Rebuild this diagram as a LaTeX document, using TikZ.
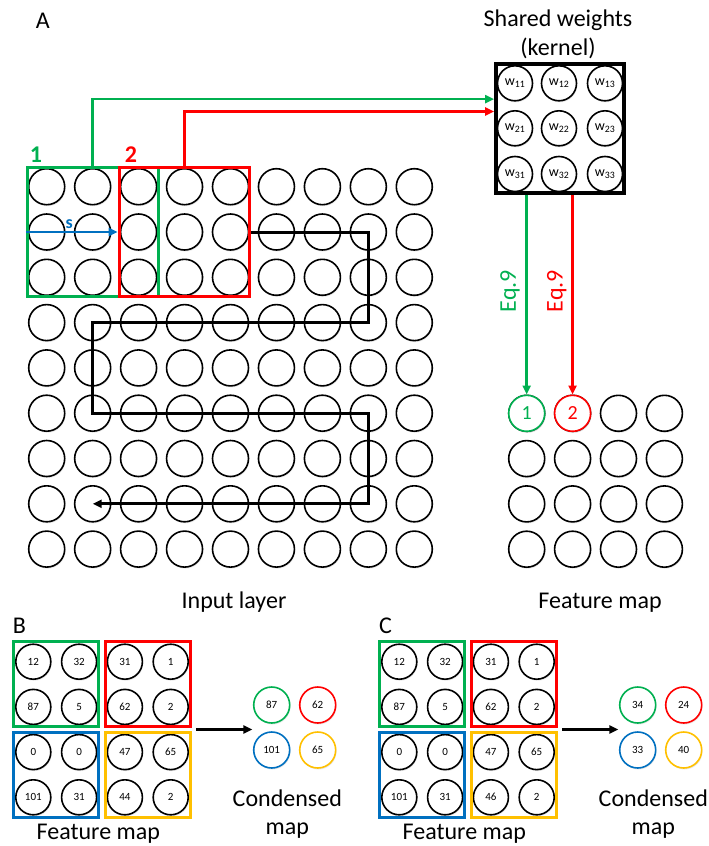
\documentclass[tikz,border=0pt]{standalone}
\usepackage{fontspec}
\setmainfont{Carlito}
\usetikzlibrary{arrows.meta,fit,calc,shadows}
\definecolor{cgreen}{RGB}{0,176,80}
\definecolor{cred}{RGB}{255,0,0}
\definecolor{cblue}{RGB}{0,112,192}
\definecolor{cgold}{RGB}{255,192,0}
\tikzset{
  shad/.style={drop shadow={opacity=0.18, shadow xshift=0.8pt, shadow yshift=-1.5pt}},
  cell/.style={circle, draw=black, line width=1.6pt, minimum size=36pt, inner sep=0pt, fill=white, shad},
  pcell/.style={cell, minimum size=35pt, font=\fontsize{11}{13}\selectfont},
  kcell/.style={cell, minimum size=35pt, font=\fontsize{14}{16}\selectfont},
  lab/.style={font=\fontsize{24}{28}\selectfont, inner sep=0pt},
  gbox/.style={draw=cgreen, line width=3pt, inner sep=0.6pt},
  pbox/.style={line width=3pt, inner sep=1.5pt},
  tip/.style={-{Triangle[length=9pt,width=8pt]}},
  garrow/.style={draw=cgreen, line width=2.6pt, tip},
  rarrow/.style={draw=cred, line width=2.6pt, tip},
  sarrow/.style={draw=cblue, line width=2.6pt, tip},
  karrow/.style={draw=black, line width=2.8pt, tip},
  scanpath/.style={draw=black, line width=3pt, tip},
}
\newcommand{\poolpanel}[8]{%
  \node[lab, anchor=base] (#2-letter) at (#1+19.5,633.3) {#3};
  \foreach \r/\c/\v in {1/1/12,1/2/32,1/3/31,1/4/1,2/1/87,2/2/5,2/3/62,2/4/2,3/1/0,3/2/0,3/3/47,3/4/65,4/1/101,4/2/31,4/3/#4,4/4/2}
    \node[pcell] (#2-\r-\c) at ({#1+33.3+45.8*(\c-1)},{661.7+45.2*(\r-1)}) {\v};
  \node[pbox, draw=cgreen, fit=(#2-1-1)(#2-2-2)] (#2-g) {};
  \node[pbox, draw=cred, fit=(#2-1-3)(#2-2-4)] (#2-r) {};
  \node[pbox, draw=cblue, fit=(#2-3-1)(#2-4-2)] (#2-b) {};
  \node[pbox, draw=cgold, fit=(#2-3-3)(#2-4-4)] (#2-o) {};
  \node[pcell, minimum size=36pt, draw=cgreen] (#2-c1) at (#1+271.7,705) {#5};
  \node[pcell, minimum size=36pt, draw=cred] (#2-c2) at (#1+317.7,705) {#6};
  \node[pcell, minimum size=36pt, draw=cblue] (#2-c3) at (#1+271.7,750) {#7};
  \node[pcell, minimum size=36pt, draw=cgold] (#2-c4) at (#1+317.7,750) {#8};
  \coordinate (#2-as) at ($(#2-r.south east)!0.5!(#2-o.north east)+(4,0)$);
  \draw[karrow, shorten >=0.5pt] (#2-as) -- (#2-as -| #2-c1.west);
  \node[lab, anchor=base] (#2-fmlab) at (#1+98.3,839.3) {Feature map};
  \node[lab, anchor=base] (#2-cl1) at (#1+287.3,806.7) {Condensed};
  \node[lab, anchor=base] (#2-cl2) at (#1+287.3,834) {map};
}
\begin{document}
\begin{tikzpicture}[x=1pt, y=-1pt]
\useasboundingbox (0,0) rectangle (709,846);
% panel A
\node[lab, anchor=base] (lblA) at (42.7,28.3) {A};
\foreach \r in {1,...,9}
  \foreach \c in {1,...,9}
    \node[cell] (in-\r-\c) at ({46.7+45.95*(\c-1)},{186.7+45.3*(\r-1)}) {};
\node[gbox, fit=(in-1-1)(in-3-3)] (gwin) {};
\node[gbox, draw=cred, fit=(in-1-3)(in-3-5)] (rwin) {};
\node[lab, anchor=base, text=cgreen, font=\bfseries\fontsize{24}{28}\selectfont] (lbl1) at (36,162.7) {1};
\node[lab, anchor=base, text=cred, font=\bfseries\fontsize{24}{28}\selectfont] (lbl2) at (131,162.7) {2};
\draw[sarrow] (gwin.west |- in-2-1) -- (rwin.west |- in-2-1);
\node[text=cblue, font=\bfseries\fontsize{18}{20}\selectfont, inner sep=0pt] (slbl) at (69.3,224) {s};
\draw[scanpath] (rwin.east |- in-2-1) -| (in-4-8.center) -| (in-6-2.center) -| (in-8-8.center) -- (in-8-2.center);
\node[lab, anchor=base] (inlab) at (234,608.3) {Input layer};
% kernel
\node[lab, anchor=base] (sw1) at (558,26.5) {Shared weights};
\node[lab, anchor=base] (sw2) at (558,55) {(kernel)};
\foreach \r/\ry in {1/83.3,2/128.3,3/174}
  \foreach \c/\cx in {1/515,2/559,3/605}
    \node[kcell] (k-\r-\c) at (\cx,\ry) {w\textsubscript{\r\c}};
\node[draw=black, line width=3.5pt, inner sep=0.8pt, fit=(k-1-1)(k-3-3)] (kernel) {};
\draw[garrow] (in-1-2 |- gwin.north) |- ([yshift=-36.7pt]kernel.north west);
\draw[rarrow] (in-1-4 |- rwin.north) |- ([yshift=-49pt]kernel.north west);
% feature map
\foreach \r in {1,...,4}
  \foreach \c in {1,...,4}
    \node[cell] (fm-\r-\c) at ({526.7+45.9*(\c-1)},{413.3+45.3*(\r-1)}) {};
\node[cell, draw=cgreen, text=cgreen, font=\fontsize{20}{22}\selectfont] (fm1) at (fm-1-1) {1};
\node[cell, draw=cred, text=cred, font=\fontsize{20}{22}\selectfont] (fm2) at (fm-1-2) {2};
\draw[garrow] (fm1 |- kernel.south) -- (fm1.north);
\draw[rarrow] (fm2 |- kernel.south) -- (fm2.north);
\node[rotate=90, text=cgreen, font=\fontsize{24}{26}\selectfont, inner sep=0pt] (eqg) at (510,291) {Eq.9};
\node[rotate=90, text=cred, font=\fontsize{24}{26}\selectfont, inner sep=0pt] (eqr) at (556.7,291) {Eq.9};
\node[lab, anchor=base] (fmlab) at (600,608.3) {Feature map};
% panels B and C
\poolpanel{0}{B}{B}{44}{87}{62}{101}{65}
\poolpanel{366}{C}{C}{46}{34}{24}{33}{40}
\end{tikzpicture}
\end{document}
